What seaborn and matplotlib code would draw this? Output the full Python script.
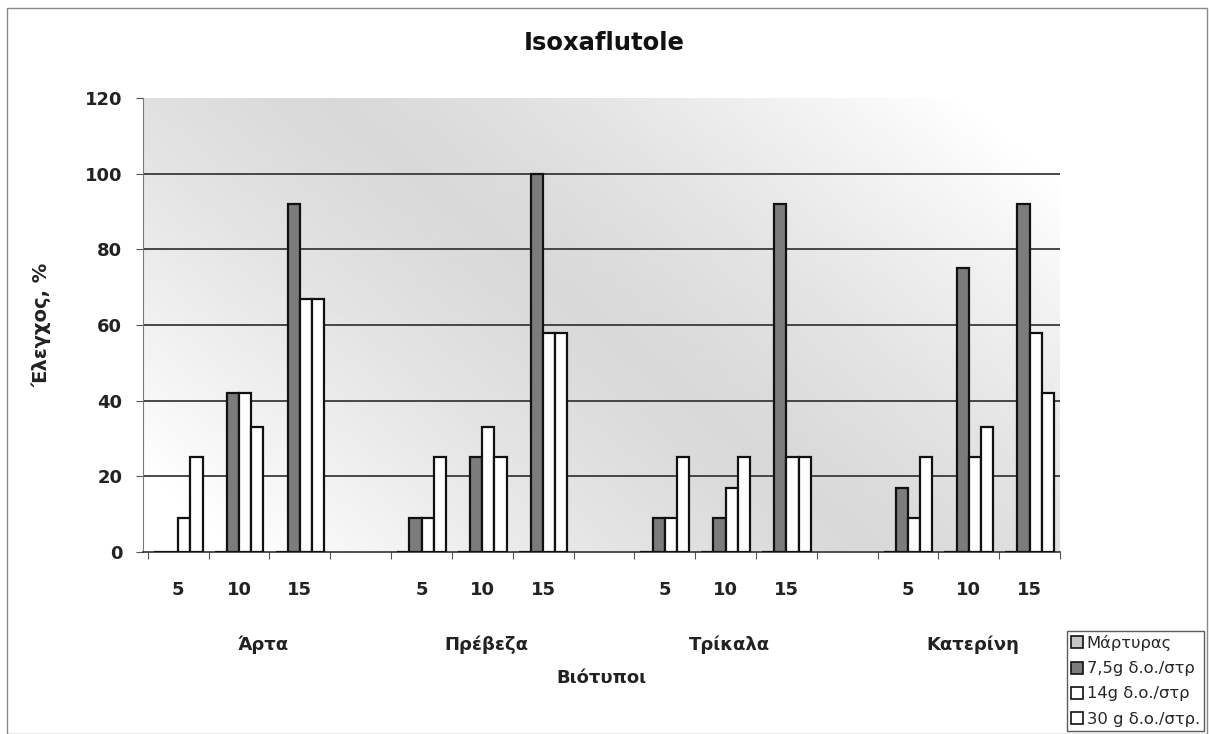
import numpy as np
import pandas as pd
import seaborn as sns
import matplotlib.pyplot as plt
from matplotlib.patches import Rectangle

# ---- data -------------------------------------------------------------
locations = ["Άρτα", "Πρέβεζα", "Τρίκαλα", "Κατερίνη"]
periods = ["5", "10", "15"]
treatments = ["Μάρτυρας", "7,5g δ.ο./στρ", "14g δ.ο./στρ", "30 g δ.ο./στρ."]

# control (%), one value per location x period (Άρτα 5,10,15, Πρέβεζα 5,10,15, ...)
control = [0, 0, 0, 0, 0, 0, 0, 0, 0, 0, 0, 0]
dose_7_5 = [0, 42, 92, 9, 25, 100, 9, 9, 92, 17, 75, 92]
dose_14 = [9, 42, 67, 9, 33, 58, 9, 17, 25, 9, 25, 58]
dose_30 = [25, 33, 67, 25, 25, 58, 25, 25, 25, 25, 33, 42]

y_ticks = [0, 20, 40, 60, 80, 100, 120]

# ---- tidy frame --------------------------------------------------------
series = [control, dose_7_5, dose_14, dose_30]
rows = []
order = []
slot_labels = []
for li, loc in enumerate(locations):
    for pi, per in enumerate(periods):
        slot = f"{loc} {per}"
        order.append(slot)
        slot_labels.append(per)
        for ti, tr in enumerate(treatments):
            rows.append({"slot": slot, "treatment": tr,
                         "value": series[ti][li * 3 + pi]})
    if li < len(locations) - 1:
        order.append(" " * (li + 1))
        slot_labels.append("")
df = pd.DataFrame(rows)

# ---- figure ------------------------------------------------------------
sns.set_theme(style="white")
plt.rcParams["font.family"] = ["DejaVu Sans"]

fig = plt.figure(figsize=(12.09, 7.34), dpi=100)
ax = fig.add_axes([143 / 1209, 1 - 552 / 734, 917 / 1209, 454 / 734])

# diagonal grey wash behind the plot area
u = np.linspace(0, 1, 400)[None, :]
v = np.linspace(0, 1, 300)[:, None]
d = u - 0.6 * v - 0.2
shade = 0.85 + 0.15 * np.clip(np.abs(d) / 0.7, 0, 1) ** 1.3
ax.imshow(shade, cmap="gray", vmin=0, vmax=1, extent=[0, 1, 0, 1],
          transform=ax.transAxes, aspect="auto", zorder=0, interpolation="bilinear")

palette = {treatments[0]: "#c4c4c4", treatments[1]: "#7c7c7c",
           treatments[2]: "#ffffff", treatments[3]: "#ffffff"}
sns.barplot(data=df, x="slot", y="value", hue="treatment", order=order,
            hue_order=treatments, palette=palette, edgecolor="#111111",
            linewidth=1.6, width=0.8, errorbar=None, saturation=1, ax=ax,
            zorder=3)

handles, labels = ax.get_legend_handles_labels()
if ax.get_legend() is not None:
    ax.get_legend().remove()

ax.set_xlim(-0.58, len(order) - 0.5)
ax.set_ylim(0, 120)
ax.set_yticks(y_ticks)
ax.set_facecolor("none")

for yv in y_ticks[1:-1]:
    ax.axhline(yv, color="#3a3a3a", lw=1.3, zorder=1)

# x ticks: labels at slot centres, marks at slot boundaries
ax.set_xticks(np.arange(len(order)))
ax.set_xticklabels(slot_labels, fontsize=13, fontweight="bold")
ax.set_xticks(np.arange(-0.5, len(order), 1), minor=True)
ax.tick_params(axis="x", which="major", length=0, pad=21, colors="#222222")
ax.tick_params(axis="x", which="minor", length=5, width=0.8, direction="out",
               color="#555555", bottom=True)
ax.tick_params(axis="y", length=5, width=0.8, direction="out", color="#555555",
               pad=10, labelsize=13, left=True, labelcolor="#222222")
for t in ax.get_yticklabels():
    t.set_fontweight("bold")

for s in ["top", "right"]:
    ax.spines[s].set_visible(False)
ax.spines["left"].set_color("#777777")
ax.spines["left"].set_linewidth(0.8)
ax.spines["bottom"].set_color("#333333")
ax.spines["bottom"].set_linewidth(1.2)

# location names under each block of three
name_shift = [0.4, 0.06, 0.06, 0.06]
for li, loc in enumerate(locations):
    ax.text(li * 4 + 1 + name_shift[li], -0.205, loc,
            transform=ax.get_xaxis_transform(),
            ha="center", va="center", fontsize=13, fontweight="bold",
            color="#222222")

ax.set_xlabel("")
ax.set_ylabel("Έλεγχος, %", fontsize=14, fontweight="bold", color="#222222")
ax.yaxis.set_label_coords(-0.1, 0.5)
ax.text(0.5, -0.2775, "Βιότυποι", transform=ax.transAxes, ha="center",
        va="center", fontsize=13, fontweight="bold", color="#222222")

fig.text(0.4996, 1 - 43 / 734, "Isoxaflutole", ha="center", va="center",
         fontsize=17.5, fontweight="bold", color="#111111")

leg = fig.legend(handles, labels, loc="upper left",
                 bbox_to_anchor=(1067 / 1209, 1 - 631 / 734),
                 frameon=True, fancybox=False, fontsize=11.8,
                 handlelength=0.75, handleheight=0.75, handletextpad=0.2,
                 borderpad=0.25, labelspacing=0.62, borderaxespad=0)
leg.get_frame().set_edgecolor("#333333")
leg.get_frame().set_linewidth(1.0)
for h in leg.legend_handles:
    h.set_linewidth(1.2)

# outer chart border
fig.add_artist(Rectangle((7 / 1209, 0.0), 1200 / 1209, 1 - 8 / 734,
                         transform=fig.transFigure, fill=False,
                         edgecolor="#888888", lw=1.0))

fig.savefig("out.png", dpi=100)
